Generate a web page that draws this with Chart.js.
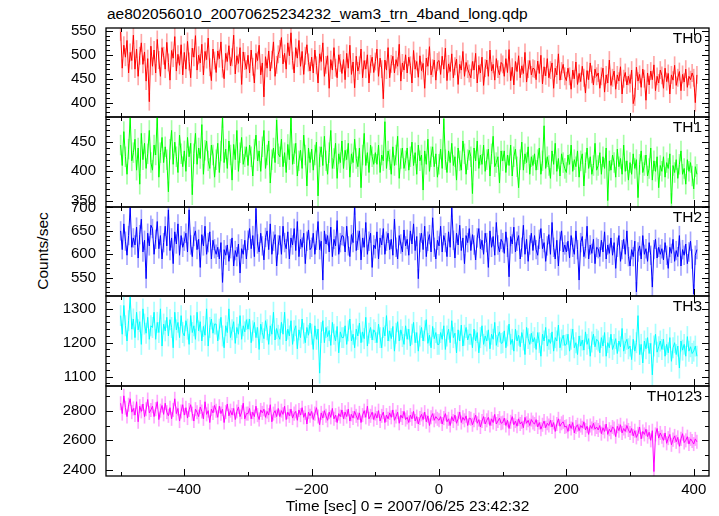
<!DOCTYPE html>
<html>
<head>
<meta charset="utf-8">
<script src="https://cdn.jsdelivr.net/npm/chart.js@4.4.1/dist/chart.umd.min.js"></script>
<style>
html, body { margin: 0; padding: 0; background: #fff; }
#page { position: relative; width: 719px; height: 516px; overflow: hidden;
        font-family: "Liberation Sans", Arial, Helvetica, sans-serif; color: #000; }
#page canvas { position: absolute; left: 0; }
.plot-title { position: absolute; left: 107px; top: 5px; font-size: 15.5px; line-height: 18px; white-space: nowrap; }
.y-title { position: absolute; left: 43px; top: 251px; font-size: 15.5px; line-height: 18px; white-space: nowrap; color: #000;
           transform: translate(-50%, -50%) rotate(-90deg); }
</style>
</head>
<body>
<div id="page">
  <div class="plot-title">ae802056010_20070625234232_wam3_trn_4band_long.qdp</div>
  <div class="y-title">Counts/sec</div>
</div>
<script>
// ─── Data (2.5 s bins, first bin centre at -500 s) ───────────────────────────
const T_START = -500;
const T_BIN = 2.5;
const X_TITLE = 'Time [sec] 0 = 2007/06/25 23:42:32';
const X_TICKS = [-400, -200, 0, 200, 400];

const th0 = [
  548,472,520,495,530,462,505,488,541,470,512,455,498,525,480,506,445,492,402,518,
  476,510,462,532,489,455,515,498,470,526,484,447,509,493,538,466,501,478,521,458,
  505,470,528,486,452,514,495,540,468,499,483,522,458,507,490,535,474,446,512,488,
  463,508,492,527,471,450,503,486,519,477,495,541,460,498,482,515,438,506,487,470,
  499,462,510,475,441,503,488,520,458,483,412,496,472,508,466,490,527,455,479,501,
  512,536,481,503,470,525,498,546,488,462,515,493,530,476,507,459,498,521,484,466,
  495,462,510,478,441,502,486,525,455,479,498,430,490,468,515,473,452,500,483,461,
  490,448,503,472,520,459,485,431,497,466,478,512,452,488,470,500,441,481,495,463,
  486,512,455,493,470,408,489,468,515,452,481,497,462,490,476,522,445,483,468,500,
  462,495,478,441,509,470,486,453,498,467,482,430,493,476,517,458,472,489,447,485,
  488,459,497,470,514,446,481,465,502,452,476,491,438,480,468,507,455,484,470,461,
  452,486,468,503,441,478,462,495,436,472,489,455,510,466,480,447,492,470,458,484,
  480,455,492,463,511,446,474,437,486,465,498,452,477,461,505,443,470,488,458,472,
  470,448,487,461,499,439,475,456,492,452,468,483,430,472,458,502,447,466,480,455,
  446,472,455,428,468,450,485,438,461,444,476,452,420,467,448,483,459,437,470,455,
  462,430,455,472,422,458,441,489,436,452,466,428,458,445,475,418,450,463,437,455,
  440,468,398,412,474,445,459,432,470,450,405,462,437,466,448,479,425,455,441,468,
  457,430,472,444,461,418,458,447,478,436,452,465,425,459,443,470,432,455,448,462,
  452,400,458];

const th1 = [
  445,410,468,425,395,438,492,418,432,455,402,440,378,465,420,448,405,430,470,415,
  402,445,428,496,390,432,458,415,442,420,365,438,470,412,450,425,398,462,430,408,
  435,400,458,425,448,360,430,465,412,440,422,480,395,436,452,418,405,445,428,390,
  420,448,398,435,492,415,438,405,452,428,385,446,420,470,400,432,458,412,425,442,
  410,445,425,392,438,462,418,435,400,442,470,405,428,452,380,420,440,415,488,430,
  425,455,408,432,398,446,420,494,412,430,448,392,418,436,405,462,428,375,440,415,
  438,402,428,450,358,425,442,410,460,418,395,432,470,405,422,448,388,430,415,452,
  405,436,420,448,390,430,415,455,422,408,440,372,428,465,410,432,398,445,425,412,
  432,412,445,398,428,418,485,405,435,420,395,442,410,428,460,388,422,440,405,418,
  440,402,425,450,410,432,395,445,418,428,368,435,412,455,400,425,442,408,430,390,
  412,438,405,490,420,398,435,415,448,410,425,385,440,418,402,452,430,395,420,436,
  425,362,440,418,452,405,428,412,445,400,420,438,392,430,460,408,415,425,380,435,
  418,435,398,428,410,445,392,425,438,408,372,420,450,402,430,415,442,395,425,410,
  430,402,420,440,395,418,478,405,425,410,388,435,412,448,400,422,392,430,415,405,
  398,428,412,445,400,420,408,435,390,418,430,375,415,440,405,425,395,410,448,402,
  410,432,395,425,405,440,350,418,402,428,415,390,438,408,422,395,445,400,418,385,
  415,395,430,405,420,355,412,435,398,410,428,392,405,440,385,418,400,425,372,410,
  400,425,390,415,405,430,345,410,398,420,388,412,435,395,405,378,420,400,415,392,
  370,408,395];

const th2 = [
  650,610,665,628,598,640,700,615,635,620,658,592,642,675,605,630,548,645,618,662,
  655,600,632,670,612,640,590,625,660,618,695,608,635,580,648,622,665,598,640,615,
  628,645,605,695,620,595,638,650,610,632,572,642,618,660,600,625,648,590,630,612,
  600,615,590,625,540,610,598,620,585,612,635,575,608,595,622,560,612,600,630,590,
  630,655,612,640,595,698,622,605,645,618,588,636,650,610,665,600,628,642,575,620,
  640,600,660,625,612,648,590,635,620,655,608,670,595,632,615,645,580,628,652,610,
  615,645,600,630,670,610,628,545,650,622,640,605,658,595,632,618,672,600,625,640,
  638,605,660,618,595,642,625,705,608,630,650,588,635,615,668,600,628,645,572,620,
  612,648,590,635,620,655,600,628,645,610,632,598,675,615,590,640,622,605,652,618,
  632,598,650,622,665,608,638,548,625,645,610,660,595,628,642,605,678,615,590,630,
  618,660,605,640,625,595,648,615,700,630,592,645,620,662,608,635,580,640,625,655,
  608,642,620,588,635,655,612,630,600,645,625,572,650,615,638,598,668,620,605,632,
  625,602,648,615,552,638,622,658,605,628,640,590,615,662,600,632,585,620,645,608,
  640,610,598,632,655,612,625,585,618,642,600,668,615,590,630,575,628,650,605,620,
  605,628,592,640,615,600,650,610,545,625,638,595,612,660,590,620,602,632,580,615,
  612,595,630,605,648,590,620,602,635,598,625,570,615,640,585,610,632,600,650,595,
  575,610,595,628,520,605,618,590,640,600,612,585,625,598,530,610,632,592,615,600,
  612,588,625,598,570,615,602,632,585,608,595,640,575,610,598,622,580,605,628,590,
  515,598,610];

const th3 = [
  1280,1225,1310,1250,1205,1265,1335,1240,1270,1215,1290,1238,1262,1195,1300,1255,1228,1275,1210,1250,
  1245,1290,1210,1260,1230,1300,1190,1255,1235,1275,1220,1268,1245,1185,1290,1238,1260,1215,1280,1230,
  1220,1265,1240,1195,1280,1230,1250,1210,1290,1235,1262,1205,1248,1222,1300,1190,1245,1270,1228,1255,
  1255,1205,1240,1275,1220,1185,1250,1230,1300,1215,1238,1262,1198,1245,1225,1280,1210,1250,1232,1268,
  1240,1270,1200,1235,1260,1215,1245,1180,1255,1230,1212,1265,1238,1195,1250,1225,1290,1208,1242,1222,
  1210,1260,1225,1290,1205,1240,1220,1265,1195,1235,1250,1182,1238,1215,1270,1228,1200,1245,1222,1258,
  1225,1180,1250,1210,1240,1110,1230,1265,1200,1245,1218,1236,1192,1260,1225,1205,1248,1170,1232,1215,
  1215,1250,1195,1235,1270,1205,1225,1185,1240,1220,1258,1200,1232,1212,1275,1190,1228,1245,1208,1238,
  1230,1200,1255,1215,1185,1245,1220,1280,1205,1235,1212,1248,1175,1228,1262,1205,1238,1218,1195,1250,
  1210,1240,1190,1225,1260,1200,1230,1175,1220,1245,1205,1235,1268,1198,1222,1185,1248,1212,1230,1195,
  1195,1230,1210,1250,1180,1220,1240,1200,1265,1215,1228,1170,1238,1205,1252,1190,1222,1245,1208,1225,
  1225,1185,1240,1205,1230,1170,1215,1250,1195,1220,1205,1238,1182,1225,1210,1260,1192,1218,1232,1198,
  1200,1235,1185,1220,1255,1195,1210,1175,1240,1205,1222,1188,1230,1208,1165,1245,1212,1195,1228,1202,
  1215,1180,1230,1200,1160,1225,1205,1245,1190,1210,1198,1232,1175,1215,1205,1252,1185,1208,1222,1192,
  1195,1225,1175,1210,1240,1185,1200,1165,1220,1190,1208,1178,1232,1195,1212,1160,1202,1225,1188,1210,
  1205,1170,1215,1190,1230,1160,1200,1185,1225,1180,1195,1212,1168,1205,1188,1242,1175,1198,1210,1182,
  1190,1150,1210,1175,1200,1280,1165,1195,1140,1205,1182,1215,1168,1198,1105,1190,1225,1172,1188,1205,
  1180,1210,1160,1195,1170,1215,1145,1185,1200,1165,1190,1125,1205,1178,1195,1160,1218,1175,1188,1168,
  1175,1190,1160];

const th0123 = [
  2850,2780,2900,2820,2760,2840,2880,2790,2815,2770,2860,2725,2830,2795,2845,2760,2810,2875,2785,2805,
  2830,2760,2810,2860,2740,2800,2835,2775,2850,2790,2765,2820,2745,2805,2880,2780,2815,2730,2795,2840,
  2770,2820,2750,2805,2840,2780,2730,2810,2790,2760,2825,2795,2745,2860,2775,2800,2720,2810,2785,2835,
  2800,2755,2830,2780,2810,2720,2790,2845,2765,2800,2770,2815,2740,2795,2825,2760,2790,2850,2745,2780,
  2780,2815,2745,2790,2760,2830,2770,2740,2805,2785,2810,2755,2795,2770,2840,2725,2780,2800,2760,2815,
  2760,2800,2775,2830,2740,2790,2765,2810,2750,2780,2795,2735,2805,2770,2820,2755,2785,2710,2790,2765,
  2795,2740,2780,2820,2760,2705,2785,2750,2800,2765,2735,2790,2755,2815,2745,2770,2720,2780,2760,2805,
  2745,2790,2760,2810,2730,2775,2750,2795,2765,2740,2785,2720,2770,2800,2755,2830,2745,2765,2790,2740,
  2780,2750,2800,2730,2765,2790,2720,2770,2745,2785,2755,2805,2735,2760,2790,2715,2770,2750,2795,2740,
  2755,2720,2770,2745,2795,2730,2760,2710,2750,2775,2740,2790,2725,2765,2700,2755,2780,2735,2760,2745,
  2735,2760,2710,2750,2780,2725,2745,2700,2760,2730,2770,2715,2745,2790,2720,2755,2735,2765,2700,2750,
  2745,2705,2735,2770,2715,2740,2690,2730,2760,2710,2735,2755,2700,2745,2720,2775,2710,2730,2750,2715,
  2720,2750,2700,2735,2680,2725,2760,2705,2730,2695,2745,2710,2725,2685,2755,2715,2735,2700,2740,2720,
  2710,2740,2690,2720,2675,2705,2730,2685,2715,2700,2735,2690,2720,2660,2710,2745,2695,2715,2725,2690,
  2695,2660,2710,2680,2720,2650,2690,2705,2665,2700,2685,2725,2670,2695,2640,2700,2680,2715,2675,2690,
  2670,2700,2645,2685,2660,2710,2640,2675,2655,2690,2680,2625,2695,2665,2705,2650,2680,2660,2700,2670,
  2650,2680,2630,2665,2620,2645,2690,2610,2660,2640,2675,2625,2655,2600,2665,2390,2640,2680,2615,2650,
  2625,2600,2650,2580,2615,2640,2570,2605,2630,2590,2620,2560,2610,2645,2585,2600,2625,2575,2610,2595,
  2575,2610,2590];

const PANEL_NAMES = ['TH0', 'TH1', 'TH2', 'TH3', 'TH0123'];
const PANEL_SERIES = [th0, th1, th2, th3, th0123];
const Y_RANGES = [[370, 556], [339, 493], [511, 701], [1072, 1338], [2360, 2966]];
const Y_TICKS = [[400, 450, 500, 550], [350, 400, 450], [550, 600, 650, 700], [1100, 1200, 1300], [2400, 2600, 2800]];
const Y_MAJOR = [50, 50, 50, 100, 200];
const Y_MINOR = [10, 10, 10, 20, 100];
const ERRORS = [18, 17, 20, 30, 45];

// ─── Layout / style ──────────────────────────────────────────────────────────
const FONT = '"Liberation Sans", Arial, Helvetica, sans-serif';
const X_MIN = -523, X_MAX = 424;
const PANEL_TOPS = [28, 117, 207, 296, 386];
const PANEL_BOTTOM = 476;
const COLORS = ['#ff0000', '#00ff00', '#0000ff', '#00ffff', '#ff00ff'];
const ERR_COLORS = ['rgba(255,0,0,.35)', 'rgba(0,255,0,.35)', 'rgba(0,0,255,.35)', 'rgba(0,255,255,.35)', 'rgba(255,0,255,.35)'];

Chart.defaults.font.family = FONT;
Chart.defaults.color = '#000';

// frame, inward QDP-style ticks and panel label
const qdpFrame = {
    id: 'qdpFrame',
    afterDatasetsDraw(chart, args, opts) {
        const { ctx, chartArea: a, scales: { x, y } } = chart;
        ctx.save();
        ctx.strokeStyle = '#000';
        ctx.lineWidth = 1;
        ctx.beginPath();
        const first = Math.ceil(y.min / opts.minor) * opts.minor;
        for (let v = first; v <= y.max; v += opts.minor) {
            const py = Math.round(y.getPixelForValue(v)) + 0.5;
            const len = v % opts.major === 0 ? 7 : 4;
            ctx.moveTo(a.left, py); ctx.lineTo(a.left + len, py);
            ctx.moveTo(a.right, py); ctx.lineTo(a.right - len, py);
        }
        for (let v = -500; v <= 400; v += 100) {
            const px = Math.round(x.getPixelForValue(v)) + 0.5;
            const len = v % 200 === 0 ? 7 : 4;
            ctx.moveTo(px, a.top); ctx.lineTo(px, a.top + len);
            ctx.moveTo(px, a.bottom); ctx.lineTo(px, a.bottom - len);
        }
        ctx.stroke();
        ctx.lineWidth = 1.3;
        ctx.strokeRect(a.left, a.top, a.right - a.left, a.bottom - a.top);
        ctx.fillStyle = '#000';
        ctx.font = '15.5px ' + FONT;
        ctx.textAlign = 'right';
        ctx.textBaseline = 'alphabetic';
        ctx.fillText(opts.label, a.right - 7, a.top + 15);
        ctx.restore();
    },
};

function buildPanel(i) {
    const last = i === PANEL_NAMES.length - 1;
    const top = PANEL_TOPS[i];
    const bottom = last ? PANEL_BOTTOM : PANEL_TOPS[i + 1];
    const canvas = document.createElement('canvas');
    canvas.width = 719;
    canvas.height = (bottom - top) + 10 + (last ? 40 : 10);
    canvas.style.top = (top - 10) + 'px';
    document.getElementById('page').appendChild(canvas);

    const values = PANEL_SERIES[i];
    const err = ERRORS[i];
    const points = values.map((v, k) => ({ x: T_START + k * T_BIN, y: v }));
    const bars = values.map((v, k) => ({ x: T_START + k * T_BIN, y: [v - err, v + err] }));

    new Chart(canvas, {
        type: 'line',
        data: {
            datasets: [
                {
                    type: 'line',
                    data: points,
                    borderColor: COLORS[i],
                    borderWidth: 1,
                    pointRadius: 0,
                    tension: 0,
                    order: 0,
                },
                {
                    type: 'bar',
                    data: bars,
                    backgroundColor: ERR_COLORS[i],
                    barThickness: 1,
                    grouped: false,
                    order: 1,
                },
            ],
        },
        options: {
            responsive: false,
            animation: false,
            events: [],
            layout: { padding: { left: 0, right: 10, top: 10, bottom: last ? 0 : 10 } },
            plugins: {
                legend: { display: false },
                tooltip: { enabled: false },
                qdpFrame: { label: PANEL_NAMES[i], major: Y_MAJOR[i], minor: Y_MINOR[i] },
            },
            scales: {
                x: {
                    type: 'linear',
                    min: X_MIN,
                    max: X_MAX,
                    offset: false,
                    display: last,
                    grid: { display: false, drawTicks: false },
                    border: { display: false },
                    afterBuildTicks: s => { s.ticks = X_TICKS.map(v => ({ value: v })); },
                    ticks: {
                        font: { size: 15 },
                        padding: 5,
                        maxRotation: 0,
                        autoSkip: false,
                        callback: v => String(v).replace('-', '\u2212'),
                    },
                    title: { display: last, text: X_TITLE, font: { size: 15.5 }, padding: 0 },
                    afterFit: s => {
                        s.height = last ? 40 : 0;
                        s.paddingLeft = 0;
                        s.paddingRight = 0;
                    },
                },
                y: {
                    type: 'linear',
                    min: Y_RANGES[i][0],
                    max: Y_RANGES[i][1],
                    grid: { display: false, drawTicks: false },
                    border: { display: false },
                    afterBuildTicks: s => { s.ticks = Y_TICKS[i].map(v => ({ value: v })); },
                    ticks: { font: { size: 15 }, padding: 10, autoSkip: false, callback: v => String(v) },
                    afterFit: s => {
                        s.width = 106;
                        s.paddingTop = 0;
                        s.paddingBottom = 0;
                    },
                },
            },
        },
        plugins: [qdpFrame],
    });
}

PANEL_NAMES.forEach((_, i) => buildPanel(i));
</script>
</body>
</html>
